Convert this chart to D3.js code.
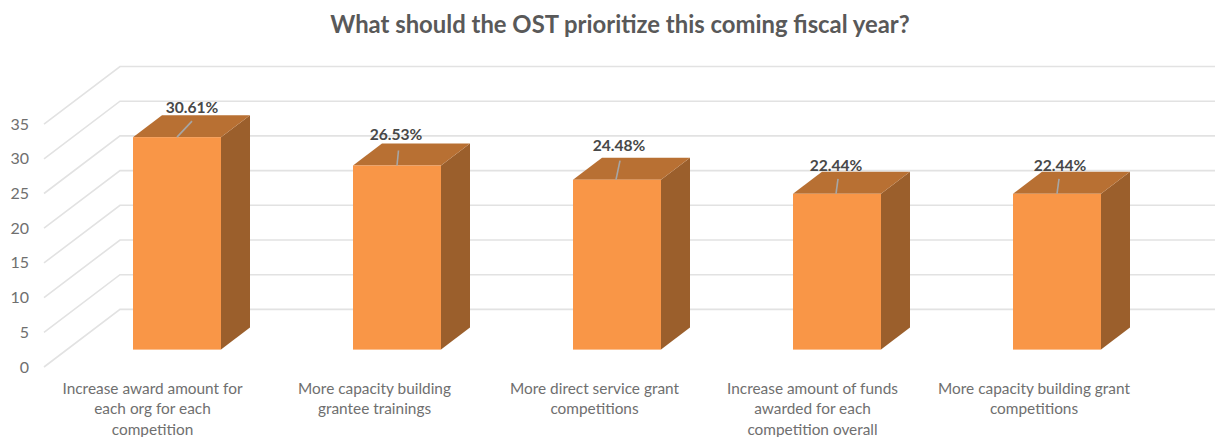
<!DOCTYPE html>
<html>
<head>
<meta charset="utf-8">
<script src="https://cdn.jsdelivr.net/npm/d3@7"></script>
<style>
  html, body { margin: 0; padding: 0; background: #fff; }
  svg { display: block; font-family: Lato, "Open Sans", sans-serif; }
</style>
</head>
<body>
<svg id="chart" width="1215" height="437"></svg>
<script>
const chartTitle = "What should the OST prioritize this coming fiscal year?";
const categories = [
  ["Increase award amount for", "each org for each", "competition"],
  ["More capacity building", "grantee trainings"],
  ["More direct service grant", "competitions"],
  ["Increase amount of funds", "awarded for each", "competition overall"],
  ["More capacity building grant", "competitions"]
];
const values = [30.61, 26.53, 24.48, 22.44, 22.44];
const valueLabels = ["30.61%", "26.53%", "24.48%", "22.44%", "22.44%"];
const yTicks = [0, 5, 10, 15, 20, 25, 30, 35];

// Leader line and label placement relative to each bar's front-top centre.
const leaderShift = [
  { x0: 0, y0: 0, x1: 15, y1: -16, lx: 15, ly: -24 },
  { x0: 0, y0: 0, x1: 1.5, y1: -15, lx: -1, ly: -25 },
  { x0: -1, y0: 0, x1: 3, y1: -19, lx: 2, ly: -29 },
  { x0: -1, y0: 0, x1: 1, y1: -15, lx: -1, ly: -23 },
  { x0: 0, y0: 0, x1: 2, y1: -15, lx: 3, ly: -23 }
];
// Horizontal offset of each category label from its bar's centre.
const categoryShift = [-24.5, -22.5, -22.5, -24.5, -23];

const svg = d3.select("#chart");

// Vertical scale measured on the back wall of the 3D box.
const yBack = d3.scaleLinear().domain([0, 35]).range([309.4, 66.5]);
const x = d3.scaleBand()
  .domain(d3.range(categories.length))
  .range([67, 1167])
  .paddingInner(0.6)
  .paddingOuter(0.3);

// Projection offsets of the box floor and of each bar.
const wallLeft = 120, wallRight = 1215;
const floorDx = -76, floorDy = 57.6;
const barPlaneDy = 40.2;
const depthDx = 29, depthDy = -22;

svg.append("text")
  .attr("x", 620).attr("y", 33)
  .attr("text-anchor", "middle")
  .attr("font-size", 23.85)
  .attr("font-weight", 700)
  .attr("fill", "#595959")
  .text(chartTitle);

// Back wall gridlines plus their diagonals along the side wall.
const grid = svg.append("g").attr("fill", "none")
  .attr("stroke", "#e2e2e2").attr("stroke-width", 1.6);
grid.selectAll("path").data(yTicks).join("path")
  .attr("d", t => {
    const p = d3.path();
    p.moveTo(wallLeft + floorDx, yBack(t) + floorDy);
    p.lineTo(wallLeft, yBack(t));
    p.lineTo(wallRight, yBack(t));
    return p.toString();
  });

svg.append("g").selectAll("text").data(yTicks).join("text")
  .attr("x", 29)
  .attr("y", t => yBack(t) + floorDy + 5.5)
  .attr("text-anchor", "end")
  .attr("font-size", 16)
  .attr("fill", "#6f6f6f")
  .text(t => t);

// Bars: front, top and side faces, drawn from the value scale.
const bars = svg.append("g").selectAll("g").data(values).join("g");
const front = (v, i) => ({
  l: x(i),
  r: x(i) + x.bandwidth(),
  t: yBack(v) + barPlaneDy,
  b: yBack(0) + barPlaneDy
});
const poly = pts => "M" + pts.map(p => p.join(",")).join("L") + "Z";

bars.append("path").attr("fill", "#9B5F2C").attr("d", (v, i) => {
  const f = front(v, i);
  return poly([[f.r, f.t], [f.r + depthDx, f.t + depthDy], [f.r + depthDx, f.b + depthDy], [f.r, f.b]]);
});
bars.append("path").attr("fill", "#B87033").attr("d", (v, i) => {
  const f = front(v, i);
  return poly([[f.l, f.t], [f.l + depthDx, f.t + depthDy], [f.r + depthDx, f.t + depthDy], [f.r, f.t]]);
});
bars.append("rect").attr("fill", "#F99647")
  .attr("x", (v, i) => front(v, i).l)
  .attr("y", (v, i) => front(v, i).t)
  .attr("width", x.bandwidth())
  .attr("height", (v, i) => front(v, i).b - front(v, i).t);

// Leader lines from each bar to its value label.
bars.append("line")
  .attr("stroke", "#a6a6a6").attr("stroke-width", 1.6)
  .attr("x1", (v, i) => front(v, i).l + x.bandwidth() / 2 + leaderShift[i].x0)
  .attr("y1", (v, i) => front(v, i).t + leaderShift[i].y0)
  .attr("x2", (v, i) => front(v, i).l + x.bandwidth() / 2 + leaderShift[i].x1)
  .attr("y2", (v, i) => front(v, i).t + leaderShift[i].y1);

bars.append("text")
  .attr("x", (v, i) => front(v, i).l + x.bandwidth() / 2 + leaderShift[i].lx)
  .attr("y", (v, i) => front(v, i).t + leaderShift[i].ly)
  .attr("text-anchor", "middle")
  .attr("font-size", 15.6)
  .attr("font-weight", 700)
  .attr("fill", "#484848")
  .text((v, i) => valueLabels[i]);

// Category labels, one text line per row.
const catGroups = svg.append("g").selectAll("g").data(categories).join("g")
  .attr("transform", (c, i) => `translate(${x(i) + x.bandwidth() / 2 + categoryShift[i]},0)`);
catGroups.selectAll("text").data(c => c).join("text")
  .attr("x", 0)
  .attr("y", (s, j) => 393.5 + j * 20.5)
  .attr("text-anchor", "middle")
  .attr("font-size", 15.4)
  .attr("fill", "#6f6f6f")
  .text(s => s);
</script>
</body>
</html>
